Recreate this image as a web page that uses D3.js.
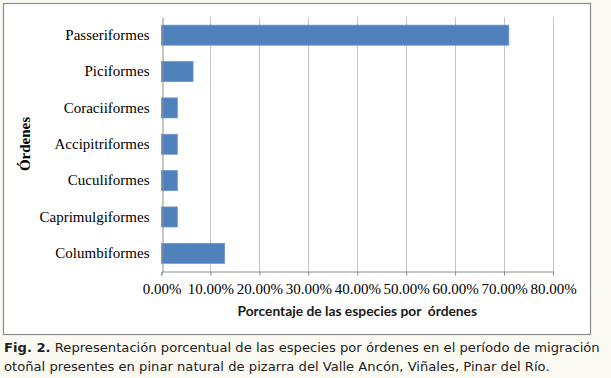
<!DOCTYPE html>
<html>
<head>
<meta charset="utf-8">
<script src="https://cdn.jsdelivr.net/npm/d3@7"></script>
<style>
  html, body { margin: 0; padding: 0; background: #fafaf3; }
  svg { display: block; }
</style>
</head>
<body>
<svg id="chart"></svg>
<script>
const ordenes = ['Passeriformes', 'Piciformes', 'Coraciiformes', 'Accipitriformes',
  'Cuculiformes', 'Caprimulgiformes', 'Columbiformes']
const porcentajes = [70.97, 6.45, 3.23, 3.23, 3.23, 3.23, 12.90]
const xTicks = [0, 10, 20, 30, 40, 50, 60, 70, 80]

const W = 611, H = 378
// plot area inside the framed chart box
const margin = {top: 17, left: 161.5, right: 553, bottom: 271.5}

const svg = d3.select('#chart')
  .attr('width', W)
  .attr('height', H)

// chart box
svg.append('rect')
  .attr('x', 3.5).attr('y', 3.5)
  .attr('width', 587).attr('height', 331)
  .attr('fill', '#ffffff')
  .attr('stroke', '#8c8c8c')
  .attr('stroke-width', 1.2)

const x = d3.scaleLinear()
  .domain([0, 80])
  .range([margin.left, margin.right])

const y = d3.scaleBand()
  .domain(ordenes)
  .range([margin.top, margin.bottom])
  .paddingInner(0.45)
  .paddingOuter(0.225)

// vertical gridlines
svg.append('g')
  .selectAll('line')
  .data(xTicks.slice(1))
  .join('line')
  .attr('x1', d => Math.round(x(d)) + 0.5)
  .attr('x2', d => Math.round(x(d)) + 0.5)
  .attr('y1', margin.top)
  .attr('y2', margin.bottom)
  .attr('stroke', '#c4c4c4')
  .attr('stroke-width', 1)

// bars
svg.append('g')
  .selectAll('rect')
  .data(ordenes)
  .join('rect')
  .attr('x', x(0))
  .attr('y', d => y(d))
  .attr('width', (d, i) => x(porcentajes[i]) - x(0))
  .attr('height', y.bandwidth())
  .attr('fill', '#4f81bd')
  .attr('stroke', '#6a95cc')
  .attr('stroke-width', 0.8)

// x axis
const xAxis = svg.append('g')
  .attr('transform', `translate(0,${margin.bottom})`)
  .call(d3.axisBottom(x)
    .tickValues(xTicks)
    .tickSize(4)
    .tickPadding(8)
    .tickFormat(d => d.toFixed(2) + '%'))
xAxis.select('.domain').attr('stroke', '#8c8c8c')
xAxis.selectAll('.tick line').attr('stroke', '#8c8c8c')
xAxis.selectAll('.tick text')
  .attr('fill', '#000')
  .attr('font-family', '"Liberation Serif", "Times New Roman", serif')
  .attr('font-size', '15px')

// y axis
const yAxis = svg.append('g')
  .attr('transform', `translate(${Math.round(margin.left) + 0.5},0)`)
  .call(d3.axisLeft(y).tickSize(0).tickPadding(13))
yAxis.select('.domain').attr('stroke', '#8c8c8c')
yAxis.selectAll('.tick text')
  .attr('fill', '#000')
  .attr('font-family', '"Liberation Serif", "Times New Roman", serif')
  .attr('font-size', '15px')

// axis titles
svg.append('text')
  .attr('x', (margin.left + margin.right) / 2)
  .attr('y', 316)
  .attr('text-anchor', 'middle')
  .attr('font-family', 'Lato, "Open Sans", sans-serif')
  .attr('font-weight', 'bold')
  .attr('font-size', '13.8px')
  .attr('fill', '#1a1a1a')
  .text('Porcentaje de las especies por \u00a0órdenes')

svg.append('text')
  .attr('transform', 'translate(30,144) rotate(-90)')
  .attr('text-anchor', 'middle')
  .attr('font-family', '"Liberation Serif", "Times New Roman", serif')
  .attr('font-weight', 'bold')
  .attr('font-size', '15px')
  .attr('fill', '#000')
  .text('Órdenes')

// caption below the box
const caption = svg.append('g')
  .attr('font-family', '"DejaVu Sans", Verdana, sans-serif')
  .attr('font-size', '13.15px')
  .attr('fill', '#222')

const line1 = caption.append('text').attr('x', 4).attr('y', 352)
line1.append('tspan').attr('font-weight', 'bold').text('Fig. 2.')
line1.append('tspan').text(' Representación porcentual de las especies por órdenes en el período de migración')

caption.append('text').attr('x', 4).attr('y', 371)
  .text('otoñal presentes en pinar natural de pizarra del Valle Ancón, Viñales, Pinar del Río.')
</script>
</body>
</html>
